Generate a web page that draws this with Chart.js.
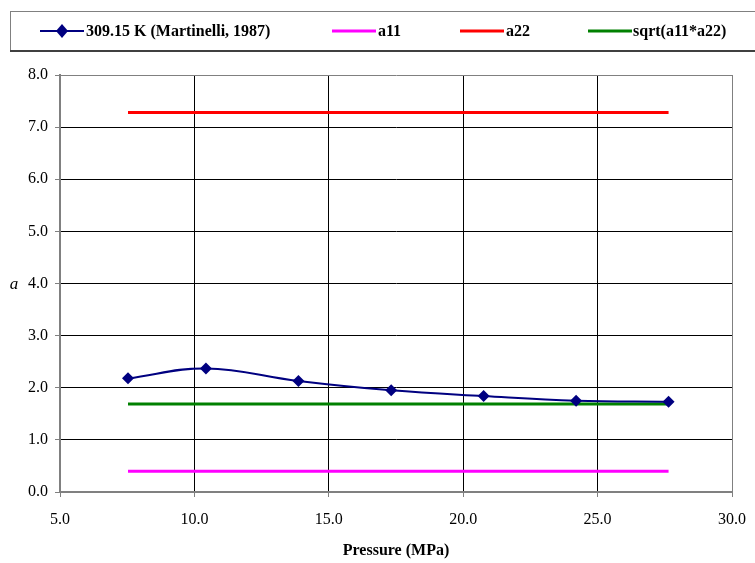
<!DOCTYPE html>
<html>
<head>
<meta charset="utf-8">
<script src="https://cdn.jsdelivr.net/npm/chart.js@4/dist/chart.umd.min.js"></script>
<style>
  html, body { margin: 0; padding: 0; background: #fff; }
  #wrap { position: relative; width: 755px; height: 563px; }
</style>
</head>
<body>
<div id="wrap"><canvas id="chart" width="755" height="563"></canvas></div>
<script>
// pressure (MPa) and measured a at 309.15 K
const pressure = [7.53, 10.43, 13.87, 17.32, 20.76, 24.20, 27.64];
const aMeasured = [2.18, 2.37, 2.13, 1.95, 1.84, 1.75, 1.73];
// constant parameter lines
const a11 = 0.40;
const a22 = 7.28;
const aMix = 1.69;
const seriesLabels = ['309.15 K (Martinelli, 1987)', 'a11', 'a22', 'sqrt(a11*a22)'];
const seriesColors = ['#000080', '#FF00FF', '#FF0000', '#008000'];

const pStart = pressure[0];
const pEnd = pressure[pressure.length - 1];
const flat = v => [{ x: pStart, y: v }, { x: pEnd, y: v }];

const serif = "'Liberation Serif', 'Times New Roman', serif";

// legend box + axis titles drawn by hand (Excel style)
const excelDecor = {
    id: 'excelDecor',
    afterDraw(chart) {
        const ctx = chart.ctx;
        const area = chart.chartArea;
        ctx.save();

        // legend frame
        ctx.strokeStyle = '#808080';
        ctx.lineWidth = 1;
        ctx.strokeRect(10.5, 11.5, 760, 40);
        ctx.strokeStyle = '#404040';
        ctx.lineWidth = 2;
        ctx.beginPath();
        ctx.moveTo(10, 51);
        ctx.lineTo(755, 51);
        ctx.stroke();

        const items = [
            { lineX: 40, textX: 86 },
            { lineX: 332, textX: 378 },
            { lineX: 460, textX: 506 },
            { lineX: 588, textX: 633 }
        ];
        const cy = 31;
        ctx.font = 'bold 16px ' + serif;
        ctx.textBaseline = 'middle';
        items.forEach((it, i) => {
            ctx.strokeStyle = seriesColors[i];
            ctx.lineWidth = i === 0 ? 2 : 3;
            ctx.beginPath();
            ctx.moveTo(it.lineX, cy);
            ctx.lineTo(it.lineX + 44, cy);
            ctx.stroke();
            if (i === 0) {
                ctx.fillStyle = seriesColors[0];
                ctx.beginPath();
                ctx.moveTo(it.lineX + 22, cy - 7);
                ctx.lineTo(it.lineX + 28, cy);
                ctx.lineTo(it.lineX + 22, cy + 7);
                ctx.lineTo(it.lineX + 16, cy);
                ctx.closePath();
                ctx.fill();
            }
            ctx.fillStyle = '#000';
            ctx.textAlign = 'left';
            ctx.fillText(seriesLabels[i], it.textX, cy + 1);
        });

        // axis titles
        ctx.fillStyle = '#000';
        ctx.textAlign = 'center';
        ctx.font = 'bold 16px ' + serif;
        ctx.fillText('Pressure (MPa)', (area.left + area.right) / 2, 551);
        ctx.font = 'italic 17px ' + serif;
        const y4 = chart.scales.y.getPixelForValue(4);
        ctx.fillText('a', 14, y4 + 1);
        ctx.restore();
    }
};

const edgeGrid = (ctx, edge) => (ctx.tick && ctx.tick.value === edge ? '#808080' : '#000000');

new Chart(document.getElementById('chart'), {
    type: 'line',
    data: {
        datasets: [
            {
                label: seriesLabels[0],
                data: pressure.map((p, i) => ({ x: p, y: aMeasured[i] })),
                borderColor: seriesColors[0],
                backgroundColor: seriesColors[0],
                borderWidth: 2,
                tension: 0.4,
                pointStyle: 'rectRot',
                pointRadius: 6,
                pointBorderWidth: 0
            },
            {
                label: seriesLabels[1],
                data: flat(a11),
                borderColor: seriesColors[1],
                borderWidth: 3,
                pointRadius: 0
            },
            {
                label: seriesLabels[2],
                data: flat(a22),
                borderColor: seriesColors[2],
                borderWidth: 3,
                pointRadius: 0
            },
            {
                label: seriesLabels[3],
                data: flat(aMix),
                borderColor: seriesColors[3],
                borderWidth: 3,
                pointRadius: 0
            }
        ]
    },
    options: {
        responsive: false,
        animation: false,
        layout: { padding: { top: 75, right: 23, left: 0, bottom: 0 } },
        plugins: {
            legend: { display: false },
            tooltip: { enabled: false }
        },
        scales: {
            x: {
                type: 'linear',
                min: 5,
                max: 30,
                afterFit: s => {
                    s.height = 71;
                    s.paddingLeft = 0;
                    s.paddingRight = 0;
                },
                ticks: {
                    stepSize: 5,
                    padding: 13,
                    color: '#000',
                    font: { family: serif, size: 16 },
                    callback: v => v.toFixed(1)
                },
                grid: {
                    color: c => edgeGrid(c, 30),
                    tickColor: '#808080',
                    tickLength: 5,
                    lineWidth: 1
                },
                border: { color: '#808080', width: 2 }
            },
            y: {
                min: 0,
                max: 8,
                afterFit: s => {
                    s.width = 60;
                    s.paddingTop = 0;
                    s.paddingBottom = 0;
                },
                ticks: {
                    stepSize: 1,
                    padding: 7,
                    color: '#000',
                    font: { family: serif, size: 16 },
                    callback: v => v.toFixed(1)
                },
                grid: {
                    color: c => edgeGrid(c, 8),
                    tickColor: '#808080',
                    tickLength: 5,
                    lineWidth: 1
                },
                border: { color: '#808080', width: 2 }
            }
        }
    },
    plugins: [excelDecor]
});
</script>
</body>
</html>
